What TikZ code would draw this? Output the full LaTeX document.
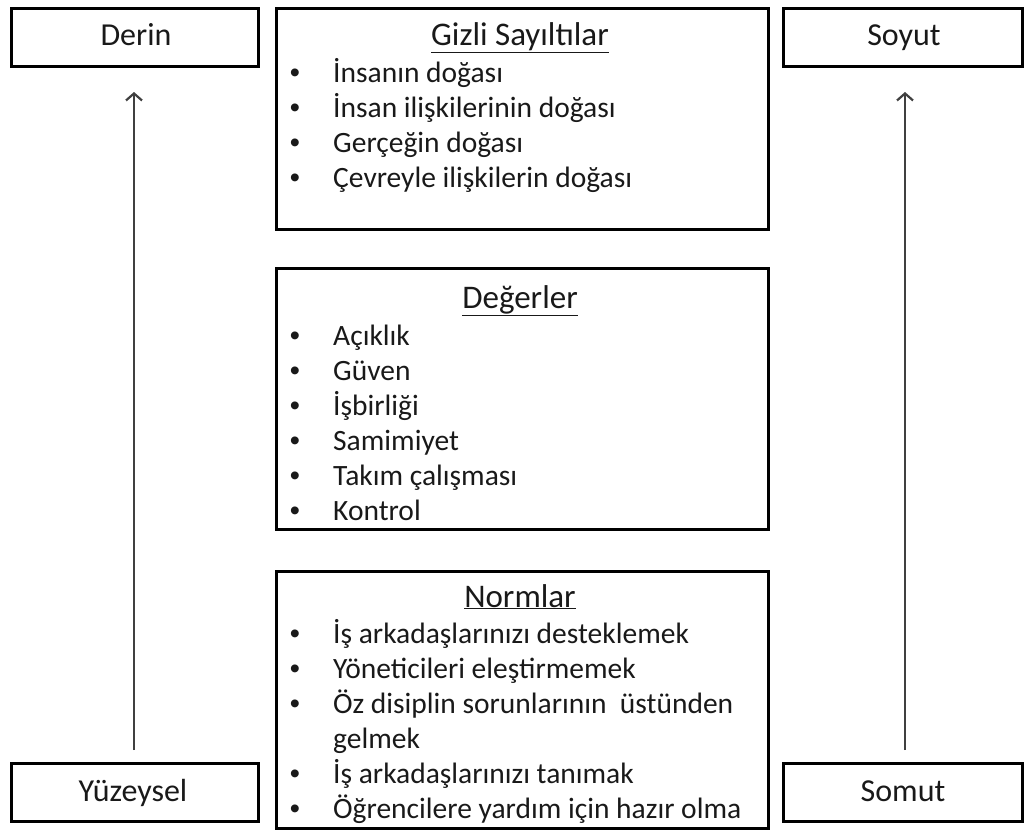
\documentclass[tikz,border=0pt]{standalone}
\usepackage{fontspec}
\setmainfont{Carlito}
\newfontfamily\bulletfont{Liberation Sans}
\usetikzlibrary{arrows.meta}
\begin{document}
\begin{tikzpicture}[x=1pt,y=-1pt,
  frame/.style={draw=black,line width=3pt,rectangle,inner sep=0pt,anchor=north west},
  label/.style={font=\fontsize{32}{38}\selectfont,text=black!90,anchor=base},
  head/.style={font=\fontsize{33}{38}\selectfont,text=black!90,anchor=base},
  item/.style={font=\fontsize{29.5}{35}\selectfont,text=black!90,anchor=base west,inner sep=0pt},
  dot/.style={font=\bulletfont\fontsize{29}{35}\selectfont,text=black!90,anchor=base,inner sep=0pt},
  axis/.style={draw=black!75,line width=2.2pt,-{Straight Barb[length=7pt,width=16pt,line width=2.2pt]}}]
\useasboundingbox (0,0) rectangle (1024,830);

% side boxes
\node[frame,minimum width=247pt,minimum height=58pt] (derin) at (10,7) {};
\node[frame,minimum width=239pt,minimum height=58pt] (soyut) at (782,7) {};
\node[frame,minimum width=247pt,minimum height=58pt] (yuz) at (10,762) {};
\node[frame,minimum width=239pt,minimum height=58pt] (somut) at (782,762) {};
\node[label] (tderin) at (136,45) {Derin};
\node[label] (tsoyut) at (904,45) {Soyut};
\node[label] (tyuz) at (133,801) {Yüzeysel};
\node[label] (tsomut) at (903,801) {Somut};

% vertical arrows
\coordinate (la) at (134,750);
\coordinate (lb) at (134,92);
\coordinate (ra) at (905,750);
\coordinate (rb) at (905,92);
\draw[axis] (la) -- (lb);
\draw[axis] (ra) -- (rb);

% central boxes
\node[frame,minimum width=492pt,minimum height=221pt] (gizli) at (275,7) {};
\node[frame,minimum width=492pt,minimum height=261pt] (deger) at (275,267) {};
\node[frame,minimum width=492pt,minimum height=257pt] (norm) at (275,570) {};

% Gizli Sayıltılar
\node[head] (hg) at (520,45) {\underline{Gizli Sayıltılar}};
\foreach \t [count=\i] in {İnsanın doğası,İnsan ilişkilerinin doğası,Gerçeğin doğası,Çevreyle ilişkilerin doğası}{
  \node[dot] (gb\i) at (295,47+35*\i) {•};
  \node[item] (gi\i) at (333,47+35*\i) {\t};
}

% Değerler
\node[head] (hd) at (520,308) {\underline{Değerler}};
\foreach \t [count=\i] in {Açıklık,Güven,İşbirliği,Samimiyet,Takım çalışması,Kontrol}{
  \node[dot] (db\i) at (295,310+35*\i) {•};
  \node[item] (di\i) at (333,310+35*\i) {\t};
}

% Normlar
\node[head] (hn) at (520,607) {\underline{Normlar}};
\foreach \t/\b [count=\i] in {İş arkadaşlarınızı desteklemek/1,Yöneticileri eleştirmemek/1,Öz disiplin sorunlarının~ üstünden/1,gelmek/0,İş arkadaşlarınızı tanımak/1,Öğrencilere yardım için hazır olma/1}{
  \ifnum\b=1 \node[dot] (nb\i) at (295,608+35*\i) {•};\fi
  \node[item] (ni\i) at (333,608+35*\i) {\t};
}
\end{tikzpicture}
\end{document}
